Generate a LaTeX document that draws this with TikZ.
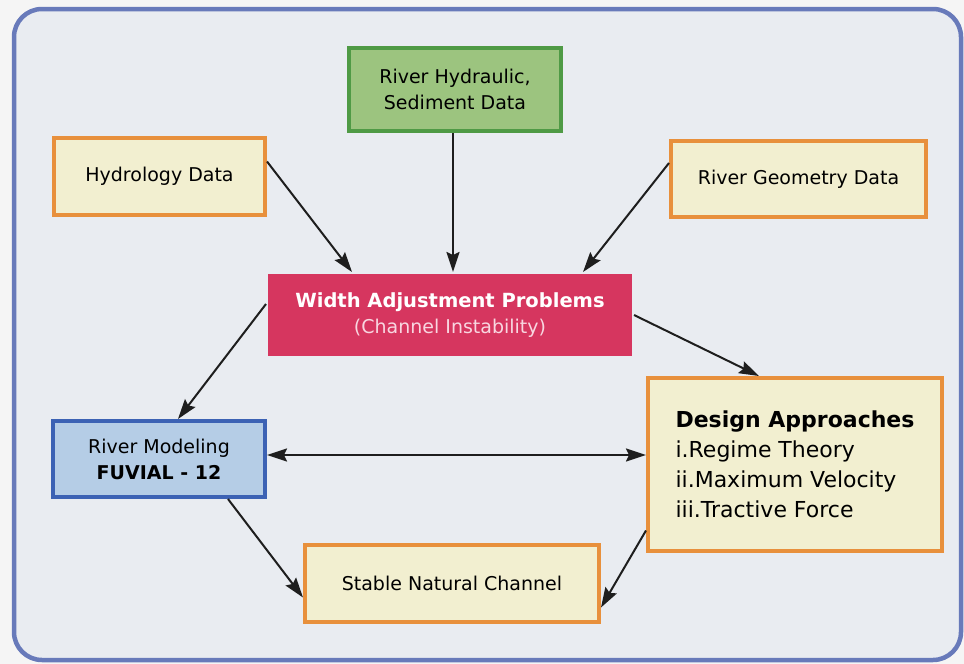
\documentclass[tikz,border=0pt]{standalone}
\usepackage{fontspec}
\setmainfont{DejaVu Sans}
\usetikzlibrary{arrows.meta,calc}
\definecolor{framec}{RGB}{104,122,186}
\definecolor{bgc}{RGB}{233,236,241}
\definecolor{orangeb}{RGB}{232,144,60}
\definecolor{creamf}{RGB}{242,239,208}
\definecolor{greenf}{RGB}{156,196,127}
\definecolor{greenb}{RGB}{79,154,69}
\definecolor{redf}{RGB}{214,54,95}
\definecolor{pinkt}{RGB}{248,214,224}
\definecolor{bluef}{RGB}{181,205,230}
\definecolor{blueb}{RGB}{60,98,180}
\definecolor{arrowc}{RGB}{30,30,30}
\begin{document}
\begin{tikzpicture}[x=1pt,y=-1pt,
  box/.style={rectangle, line width=4pt, inner sep=0pt, align=center,
    font=\fontsize{19}{26}\selectfont, text=black},
  obox/.style={box, draw=orangeb, fill=creamf},
  conn/.style={line width=2pt, draw=arrowc, -{Stealth[length=20pt,width=13pt,inset=3pt]}},
  dconn/.style={line width=2pt, draw=arrowc, {Stealth[length=20pt,width=13pt,inset=3pt]}-{Stealth[length=20pt,width=13pt,inset=3pt]}}
]
\useasboundingbox (0,0) rectangle (964,664);
\fill[white!96!black] (0,0) rectangle (964,664);
\draw[line width=4.5pt, draw=framec, fill=bgc, rounded corners=28pt] (14,9) rectangle (961,660);

\node[box, draw=greenb, fill=greenf, minimum width=212pt, minimum height=83pt] (green) at (455,89.5) {River Hydraulic,\\Sediment Data};
\node[obox, minimum width=211pt, minimum height=77pt] (hydro) at (159.5,176.5) {Hydrology Data};
\node[obox, minimum width=255pt, minimum height=76pt] (geom) at (798.5,179) {River Geometry Data};
\node[box, fill=redf, minimum width=364pt, minimum height=82pt, text=white] (width) at (450,315)
  {\textbf{\fontsize{19.5}{26}\selectfont Width Adjustment Problems}\\\textcolor{pinkt}{(Channel Instability)}};
\node[box, draw=blueb, fill=bluef, minimum width=212pt, minimum height=76pt] (model) at (159,459) {River Modeling\\\textbf{FUVIAL - 12}};
\node[obox, minimum width=294pt, minimum height=173pt, align=left, font=\fontsize{22}{30}\selectfont] (design) at (795,464.5)
  {\textbf{Design Approaches}\\i.Regime Theory\\ii.Maximum Velocity\\iii.Tractive Force};
\node[obox, minimum width=294pt, minimum height=77pt] (stable) at (452,583.5) {Stable Natural Channel};

\draw[conn] ([yshift=15pt]hydro.east) -- ([xshift=-98pt]width.north);
\draw[conn] ([xshift=-2pt]green.south) -- ([xshift=-2pt]green.south |- width.north);
\draw[conn] ([yshift=16pt]geom.west) -- ([xshift=133pt]width.north);
\draw[conn] (width.east) -- ([xshift=-36pt]design.north);
\draw[conn] ([yshift=11pt]width.west) -- ([xshift=19pt]model.north);
\draw[dconn] ([yshift=4pt]model.east) -- ([yshift=4pt]model.east -| design.west);
\draw[conn] ([xshift=69pt]model.south) -- ([yshift=-14pt]stable.west);
\draw[conn] ([yshift=-66pt]design.west) -- ([yshift=-24pt]stable.east);
\end{tikzpicture}
\end{document}
